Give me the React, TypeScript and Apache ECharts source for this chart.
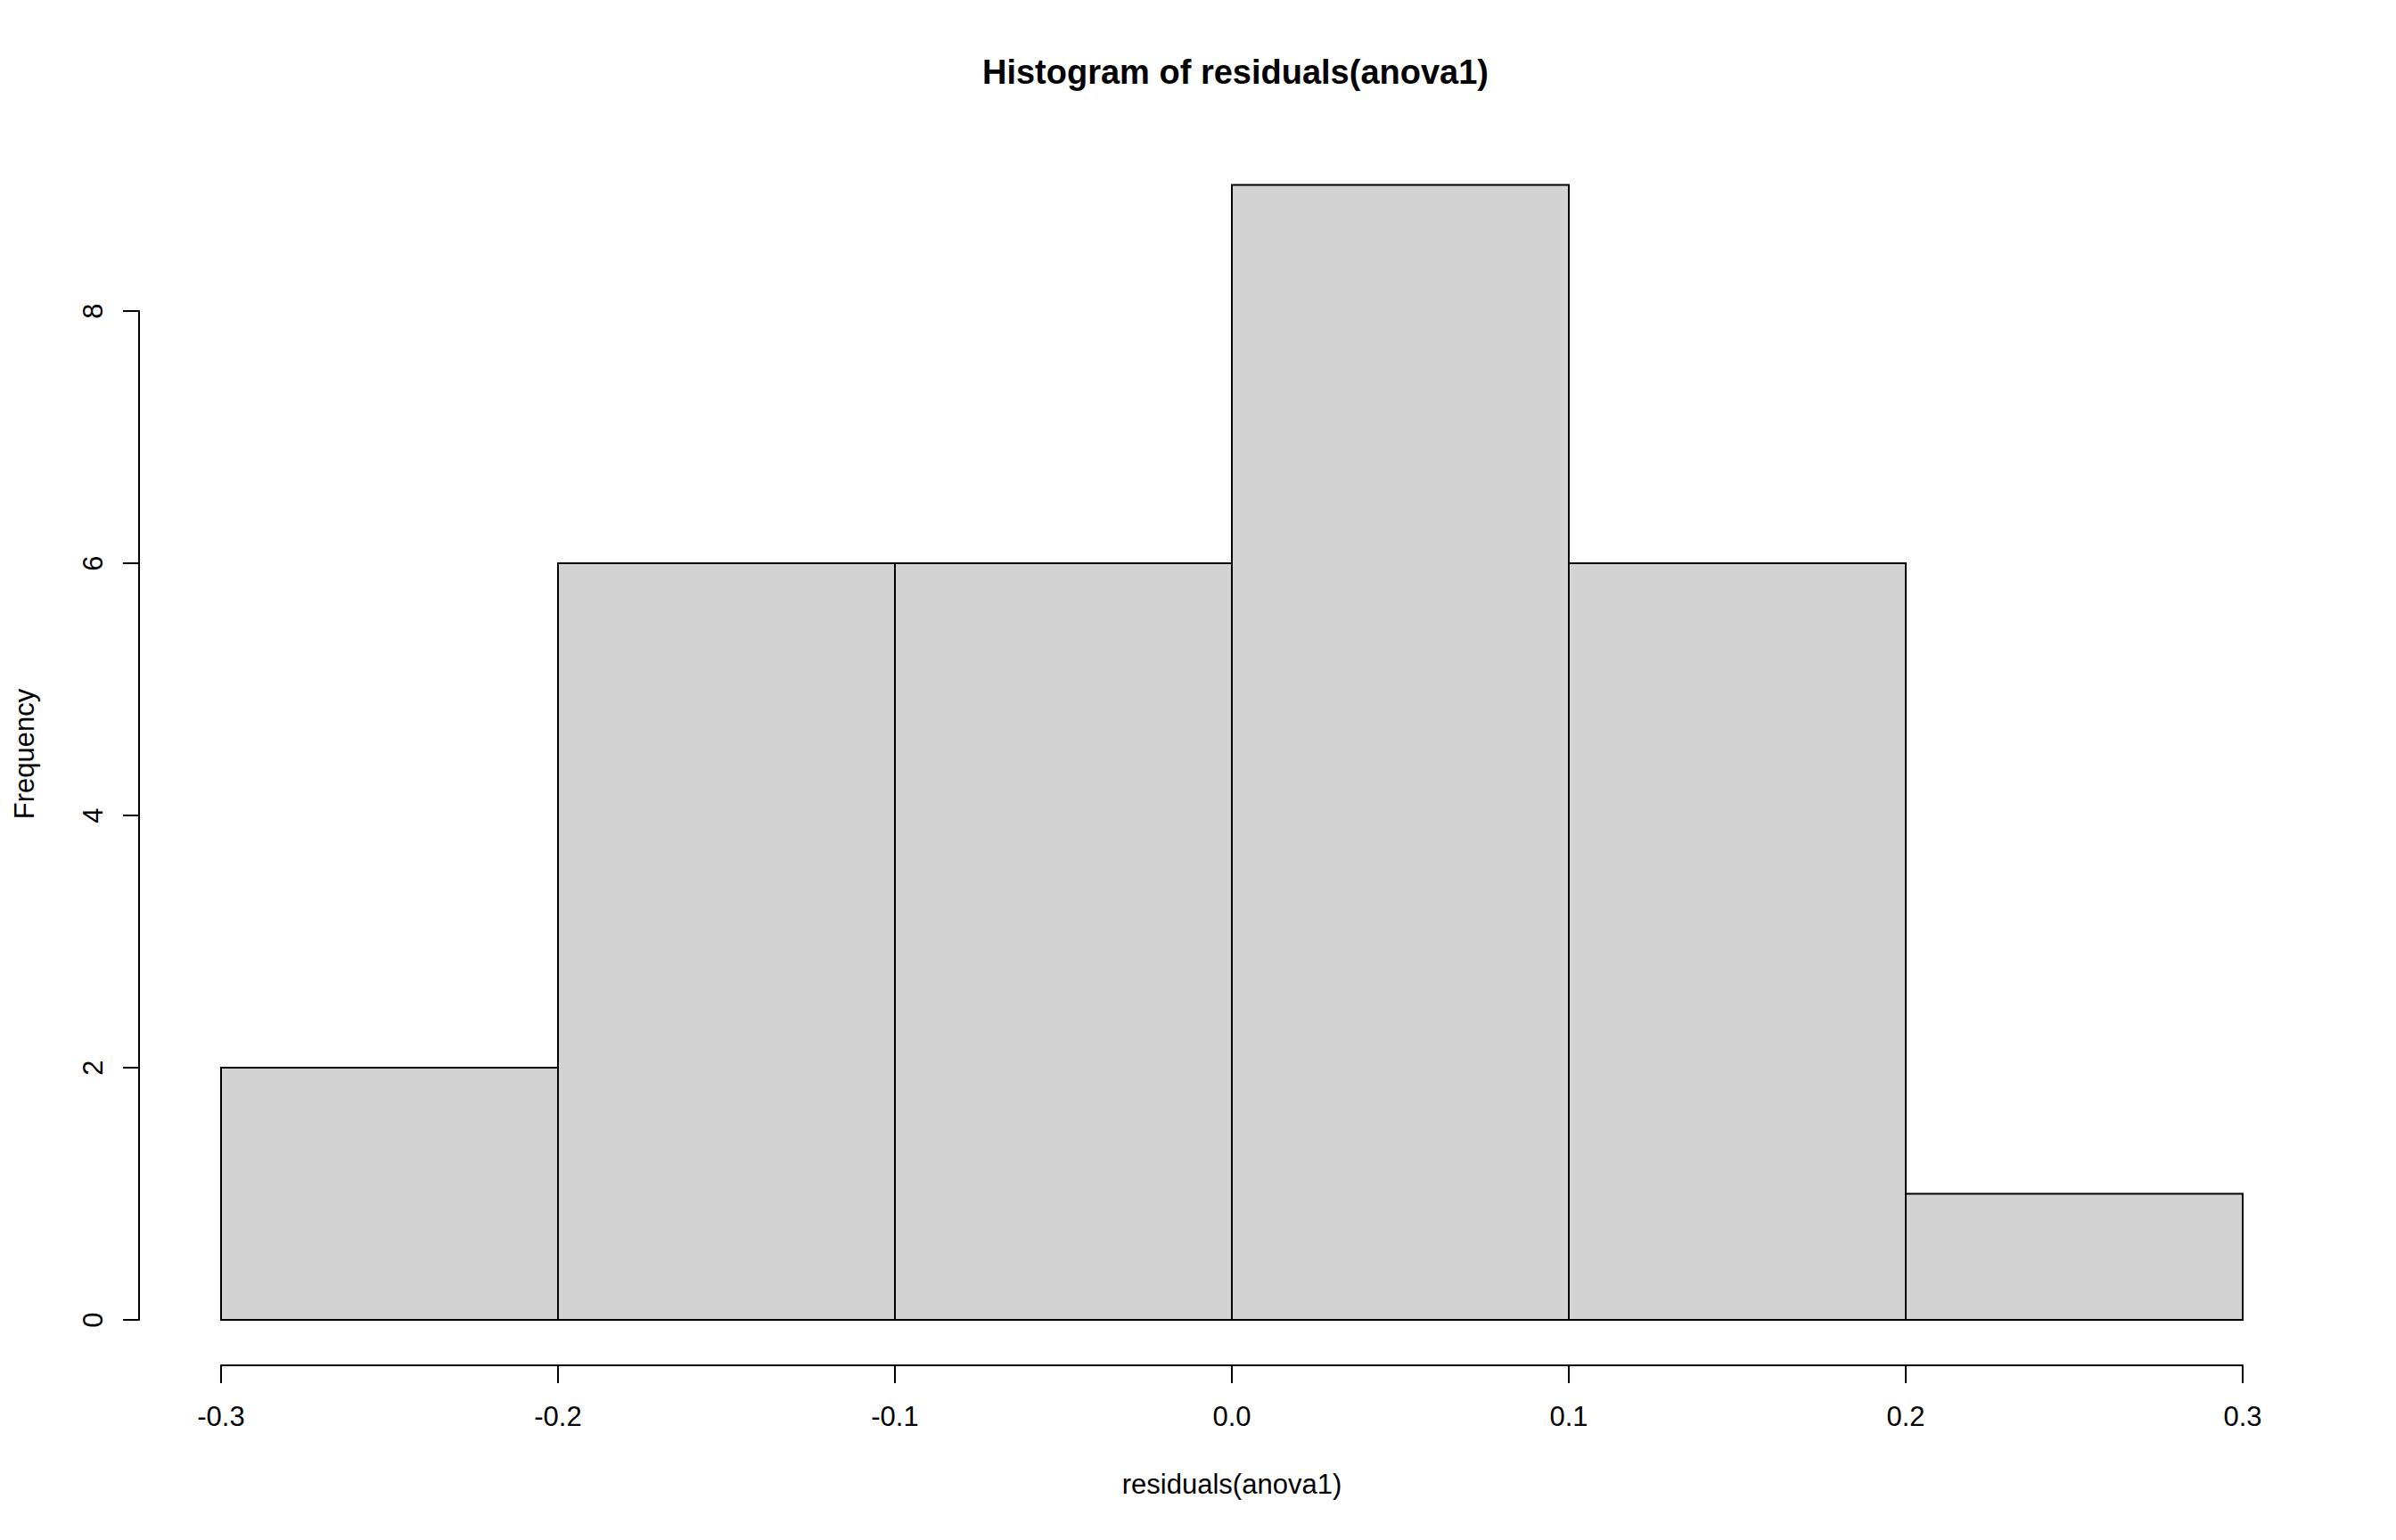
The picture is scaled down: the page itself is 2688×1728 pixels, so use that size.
import React, { useEffect, useRef } from "react";
import * as echarts from "echarts";

const breaks = [-0.3, -0.2, -0.1, 0.0, 0.1, 0.2, 0.3];
const counts = [2, 6, 6, 9, 6, 1];
const titleText = "Histogram of residuals(anova1)";
const xName = "residuals(anova1)";
const yName = "Frequency";

const FONT = "'Liberation Sans', Arial, sans-serif";

export default function App() {
  const ref = useRef<HTMLDivElement>(null);
  useEffect(() => {
    if (!ref.current) return;
    const chart = echarts.init(ref.current, null, { renderer: "svg" });
    const data = counts.map((c, i) => [breaks[i], breaks[i + 1], c]);
    chart.setOption({
      animation: false,
      backgroundColor: "#ffffff",
      title: {
        text: titleText,
        left: 1381,
        top: 57,
        textAlign: "center",
        textStyle: { fontFamily: FONT, fontSize: 38, fontWeight: "bold", color: "#000" },
      },
      grid: { left: 248, top: 349, width: 2268, height: 1132, containLabel: false },
      xAxis: {
        type: "value",
        min: -0.3,
        max: 0.3,
        interval: 0.1,
        offset: 51,
        name: xName,
        nameLocation: "middle",
        nameGap: 118,
        nameTextStyle: { fontFamily: FONT, fontSize: 31, color: "#000" },
        axisLine: { show: true, onZero: false, lineStyle: { color: "#000", width: 2 } },
        axisTick: { show: true, length: 20, inside: false, lineStyle: { color: "#000", width: 2 } },
        axisLabel: {
          fontFamily: FONT,
          fontSize: 31,
          color: "#000",
          margin: 42,
          formatter: (v: number) => (Math.abs(v) < 1e-9 ? "0.0" : v.toFixed(1)),
        },
        splitLine: { show: false },
      },
      yAxis: {
        type: "value",
        min: 0,
        max: 8,
        interval: 2,
        offset: 92,
        axisLine: { show: true, onZero: false, lineStyle: { color: "#000", width: 2 } },
        axisTick: { show: true, length: 18, inside: false, lineStyle: { color: "#000", width: 2 } },
        axisLabel: {
          fontFamily: FONT,
          fontSize: 31,
          color: "#000",
          rotate: 90,
          margin: 36,
        },
        splitLine: { show: false },
      },
      graphic: [
        {
          type: "text",
          x: 27,
          y: 846,
          rotation: Math.PI / 2,
          style: {
            text: yName,
            fontFamily: FONT,
            fontSize: 31,
            fill: "#000",
            textAlign: "center",
            textVerticalAlign: "middle",
          },
        },
      ],
      series: [
        {
          type: "custom",
          clip: false,
          data,
          encode: { x: [0, 1], y: 2 },
          renderItem: (params: any, api: any) => {
            const x0 = api.value(0);
            const x1 = api.value(1);
            const c = api.value(2);
            const p0 = api.coord([x0, c]);
            const p1 = api.coord([x1, 0]);
            return {
              type: "rect",
              shape: { x: p0[0], y: p0[1], width: p1[0] - p0[0], height: p1[1] - p0[1] },
              style: { fill: "#d3d3d3", stroke: "#000", lineWidth: 2 },
            };
          },
        },
      ],
    });
    return () => chart.dispose();
  }, []);
  return (
    <div
      ref={ref}
      style={{ position: "fixed", left: 0, top: 0, width: 2688, height: 1728, background: "#fff" }}
    />
  );
}
